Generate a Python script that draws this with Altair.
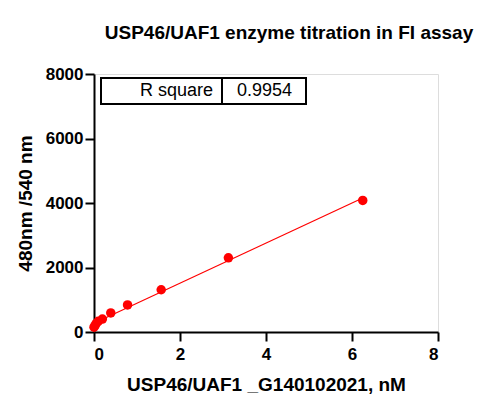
import altair as alt
import pandas as pd

conc = [0, 0.024, 0.049, 0.098, 0.195, 0.39, 0.78, 1.5625, 3.125, 6.25]
signal = [150, 200, 260, 330, 400, 590, 840, 1310, 2300, 4080]
r_label = ["R square"]
r_value = ["0.9954"]

df = pd.DataFrame({"x": conc, "y": signal})

FONT = "Liberation Sans"

xs = alt.Scale(domain=[0, 8], nice=False, zero=True)
ys = alt.Scale(domain=[0, 8000], nice=False)

base = alt.Chart(df)

common = dict(grid=False, format="d",
              domainColor="black", domainWidth=2, tickColor="black", tickWidth=2, tickSize=9,
              labelFont=FONT, labelFontSize=17, labelFontWeight="bold", labelColor="black",
              titleFont=FONT, titleFontSize=19, titleFontWeight="bold", titleColor="black")
xaxis = alt.Axis(values=[0, 2, 4, 6, 8], title="USP46/UAF1 _G140102021, nM",
                 labelPadding=5, titlePadding=13, **common)
yaxis = alt.Axis(values=[0, 2000, 4000, 6000, 8000], title="480nm /540 nm",
                 labelPadding=2, titlePadding=10, **common)

fit = base.transform_regression("x", "y", extent=[0, 6.25]).mark_line(
    color="#ff0000", strokeWidth=1.2, clip=False
).encode(x=alt.X("x:Q", scale=xs, axis=xaxis), y=alt.Y("y:Q", scale=ys, axis=yaxis))

pts = base.mark_circle(color="#ff0000", opacity=1, size=90, clip=False).encode(
    x=alt.X("x:Q", scale=xs), y=alt.Y("y:Q", scale=ys)
)

tbl = pd.DataFrame({"label": r_label, "value": r_value})
box = alt.Chart(tbl).mark_rect(fill="white", stroke="black", strokeWidth=2).encode(
    x=alt.value(7), x2=alt.value(212), y=alt.value(4), y2=alt.value(30)
)
div = alt.Chart(tbl).mark_rule(color="black", strokeWidth=2).encode(
    x=alt.value(128), y=alt.value(4), y2=alt.value(30)
)
lab = alt.Chart(tbl).mark_text(font=FONT, fontSize=18, align="right", baseline="middle", color="black").encode(
    x=alt.value(119), y=alt.value(17), text="label:N"
)
val = alt.Chart(tbl).mark_text(font=FONT, fontSize=18, align="left", baseline="middle", color="black").encode(
    x=alt.value(143), y=alt.value(17), text="value:N"
)

chart = alt.layer(fit, pts, box, div, lab, val).properties(
    width=344, height=258,
    title=alt.TitleParams("USP46/UAF1 enzyme titration in FI assay", font=FONT, fontSize=19,
                          fontWeight="bold", color="black", anchor="middle", offset=22, dx=23),
    autosize=alt.AutoSizeParams(type="none"),
    padding={"left": 86, "top": 66, "right": 50, "bottom": 80},
).configure_view(stroke=None).configure(background="white")

chart.save("out.html", embed_options={"renderer": "svg", "actions": False})
